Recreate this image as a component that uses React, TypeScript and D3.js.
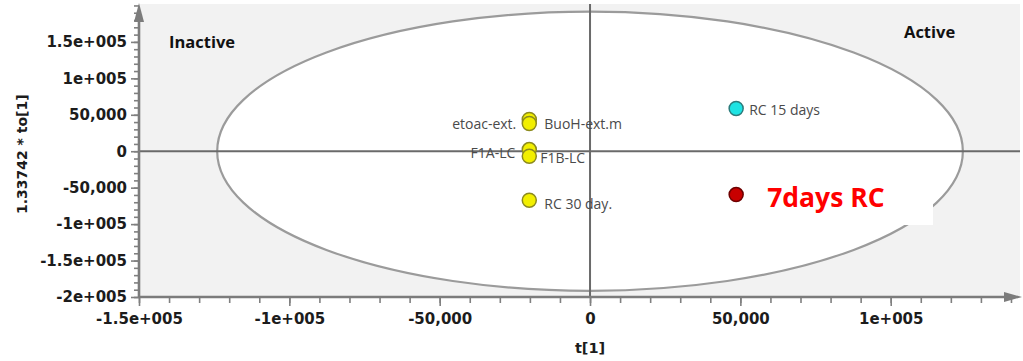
import * as React from 'react';
import * as d3 from 'd3';

// scores on the first predictive / orthogonal component
const sampleNames: string[] = ['etoac-ext.', 'BuoH-ext.m', 'F1A-LC', 'F1B-LC', 'RC 30 day.', 'RC 15 days', '7days RC'];
const t1Values: number[] = [-20200, -20200, -20200, -20200, -20200, 48600, 48600];
const to1Values: number[] = [43500, 38000, 2300, -6900, -67300, 58600, -59500];
const sampleGroups: string[] = ['extract', 'extract', 'extract', 'extract', 'extract', 'rc15', 'rc7'];

// Hotelling T2 ellipse half-axes
const ellipseT = 124000;
const ellipseTo = 191500;

const xTickValues: number[] = [-150000, -100000, -50000, 0, 50000, 100000];
const xTickLabels: string[] = ['-1.5e+005', '-1e+005', '-50,000', '0', '50,000', '1e+005'];
const yTickValues: number[] = [150000, 100000, 50000, 0, -50000, -100000, -150000, -200000];
const yTickLabels: string[] = ['1.5e+005', '1e+005', '50,000', '0', '-50,000', '-1e+005', '-1.5e+005', '-2e+005'];

const groupFill: any = { extract: '#f2ef00', rc15: '#1ee3e3', rc7: '#c80000' };
const groupStroke: any = { extract: '#8c8a1e', rc15: '#2c7b7b', rc7: '#6e0000' };

// label placement: side and vertical nudge (px)
const labelLayout: any[] = [
	{ side: 'left', dx: -13, dy: 9 },
	{ side: 'right', dx: 15, dy: 5 },
	{ side: 'left', dx: -14, dy: 8 },
	{ side: 'right', dx: 11, dy: 7 },
	{ side: 'right', dx: 15, dy: 9 },
	{ side: 'right', dx: 13, dy: 6 },
	{ side: 'big', dx: 31, dy: 12 }
];

const W = 1023;
const H = 361;
const left = 139;
const right = 1020;
const top = 4;
const bottom = 297;

class App extends React.Component {
	private svgRef = React.createRef<SVGSVGElement>();

	public render() {
		return (
			<svg ref={this.svgRef} width={W} height={H} style={{ display: 'block', background: '#fff' }} />
		);
	}

	public componentDidMount() {
		document.body.style.margin = '0';
		const svg = d3.select(this.svgRef.current);
		svg.selectAll('*').remove();

		const x = d3.scaleLinear().domain([-150000, 143000]).range([left, right]);
		const y = d3.scaleLinear().domain([-200000, 202000]).range([bottom, top]);

		// plot background
		svg.append('rect')
			.attr('x', left)
			.attr('y', top)
			.attr('width', right - left)
			.attr('height', bottom - top)
			.attr('fill', '#f2f2f2');

		// ellipse
		svg.append('ellipse')
			.attr('cx', x(0))
			.attr('cy', y(0))
			.attr('rx', x(ellipseT) - x(0))
			.attr('ry', y(0) - y(ellipseTo))
			.attr('fill', '#ffffff')
			.attr('stroke', '#9b9b9b')
			.attr('stroke-width', 2.2);

		// cross lines through origin
		svg.append('line')
			.attr('x1', x(0)).attr('x2', x(0))
			.attr('y1', top).attr('y2', bottom)
			.attr('stroke', '#6a6a6a').attr('stroke-width', 2);
		svg.append('line')
			.attr('x1', left).attr('x2', right)
			.attr('y1', y(0)).attr('y2', y(0))
			.attr('stroke', '#6a6a6a').attr('stroke-width', 2);

		// white patch behind the big annotation
		svg.append('rect')
			.attr('x', 757).attr('y', 176)
			.attr('width', 176).attr('height', 49)
			.attr('fill', '#ffffff');

		// axes
		const fmtX = (d: any) => xTickLabels[xTickValues.indexOf(d)];
		const fmtY = (d: any) => yTickLabels[yTickValues.indexOf(d)];

		const minorX = d3.range(-150000, 140001, 10000);
		const minorY = d3.range(-200000, 200001, 10000);

		const gxMinor = svg.append('g').attr('transform', `translate(0,${bottom})`)
			.call(d3.axisBottom(x).tickValues(minorX).tickSize(6).tickFormat(() => ''));
		const gx = svg.append('g').attr('transform', `translate(0,${bottom})`)
			.call(d3.axisBottom(x).tickValues(xTickValues).tickSize(9).tickPadding(7).tickFormat(fmtX));
		const gyMinor = svg.append('g').attr('transform', `translate(${left},0)`)
			.call(d3.axisLeft(y).tickValues(minorY).tickSize(5).tickFormat(() => ''));
		const gy = svg.append('g').attr('transform', `translate(${left},0)`)
			.call(d3.axisLeft(y).tickValues(yTickValues).tickSize(8).tickPadding(4).tickFormat(fmtY));

		[gxMinor, gx, gyMinor, gy].forEach((g: any) => {
			g.select('.domain').remove();
			g.selectAll('line').attr('stroke', '#808080').attr('stroke-width', 1.6);
			g.selectAll('text')
				.attr('fill', '#1c1c1c')
				.style('font-family', '"DejaVu Sans", sans-serif')
				.style('font-weight', 'bold')
				.style('font-size', '15px');
		});

		// axis lines with arrows
		svg.append('line')
			.attr('x1', left).attr('x2', left)
			.attr('y1', bottom).attr('y2', top + 12)
			.attr('stroke', '#7c7c7c').attr('stroke-width', 2.6);
		svg.append('path')
			.attr('d', `M${left},${top - 1} L${left - 5},${top + 18} L${left + 5},${top + 18} Z`)
			.attr('fill', '#7c7c7c');
		svg.append('line')
			.attr('x1', left).attr('x2', right - 12)
			.attr('y1', bottom).attr('y2', bottom)
			.attr('stroke', '#7c7c7c').attr('stroke-width', 2.6);
		svg.append('path')
			.attr('d', `M${right + 2},${bottom} L${right - 16},${bottom - 5} L${right - 16},${bottom + 5} Z`)
			.attr('fill', '#7c7c7c');

		// axis titles
		svg.append('text')
			.attr('x', x(0))
			.attr('y', 353)
			.attr('text-anchor', 'middle')
			.attr('fill', '#1c1c1c')
			.style('font-family', '"DejaVu Sans", sans-serif')
			.style('font-weight', 'bold')
			.style('font-size', '14.5px')
			.text('t[1]');
		svg.append('text')
			.attr('transform', `translate(27,${y(0) + 3}) rotate(-90)`)
			.attr('text-anchor', 'middle')
			.attr('fill', '#1c1c1c')
			.style('font-family', '"DejaVu Sans", sans-serif')
			.style('font-weight', 'bold')
			.style('font-size', '14px')
			.text('1.33742 * to[1]');

		// region captions
		svg.append('text')
			.attr('x', 169).attr('y', 48)
			.attr('fill', '#111')
			.style('font-family', '"Open Sans", sans-serif')
			.style('font-weight', 'bold')
			.style('font-size', '16.5px')
			.text('Inactive');
		svg.append('text')
			.attr('x', 904).attr('y', 38)
			.attr('fill', '#111')
			.style('font-family', '"Open Sans", sans-serif')
			.style('font-weight', 'bold')
			.style('font-size', '16.5px')
			.text('Active');

		// points
		const data = sampleNames.map((name, i) => ({
			name,
			t: t1Values[i],
			to: to1Values[i],
			group: sampleGroups[i],
			lay: labelLayout[i]
		}));

		svg.append('g')
			.selectAll('circle')
			.data(data)
			.enter()
			.append('circle')
			.attr('cx', (d: any) => x(d.t))
			.attr('cy', (d: any) => y(d.to))
			.attr('r', 7)
			.attr('fill', (d: any) => groupFill[d.group])
			.attr('stroke', (d: any) => groupStroke[d.group])
			.attr('stroke-width', 1.5);

		svg.append('g')
			.selectAll('text')
			.data(data)
			.enter()
			.append('text')
			.attr('x', (d: any) => x(d.t) + d.lay.dx)
			.attr('y', (d: any) => y(d.to) + d.lay.dy)
			.attr('text-anchor', (d: any) => (d.lay.side === 'left' ? 'end' : 'start'))
			.attr('fill', (d: any) => (d.lay.side === 'big' ? '#ff0000' : '#4a4a4a'))
			.style('font-family', '"Open Sans", sans-serif')
			.style('font-weight', (d: any) => (d.lay.side === 'big' ? 'bold' : 'normal'))
			.style('font-size', (d: any) => (d.lay.side === 'big' ? '26.5px' : '14px'))
			.text((d: any) => d.name);
	}
}

export default App;
